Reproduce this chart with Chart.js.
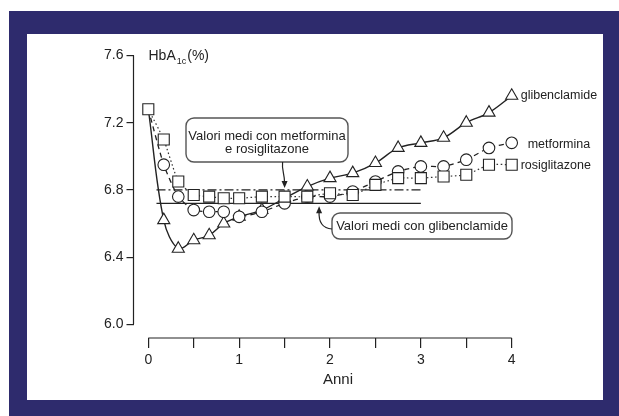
<!DOCTYPE html>
<html>
<head>
<meta charset="utf-8">
<script src="https://cdn.jsdelivr.net/npm/chart.js@4/dist/chart.umd.min.js"></script>
<style>
  html, body { margin: 0; padding: 0; background: #fff; }
  #frame { position: absolute; left: 9px; top: 11px; width: 610px; height: 405px; background: #2e2b6d; }
  #inner { position: absolute; left: 27px; top: 34px; width: 576px; height: 366px; background: #fff; }
  #wrap { position: absolute; left: 0; top: 0; width: 619px; height: 416px; }
</style>
</head>
<body>
<div id="frame"></div>
<div id="inner"></div>
<div id="wrap"><canvas id="myChart"></canvas></div>
<script>
  // anni di follow-up
  const anni = [0, 0.17, 0.33, 0.5, 0.67, 0.83, 1, 1.25, 1.5, 1.75, 2, 2.25, 2.5, 2.75, 3, 3.25, 3.5, 3.75, 4];

  // HbA1c (%)
  const glibenclamide = [7.28, 6.62, 6.45, 6.50, 6.53, 6.60, 6.64, 6.68, 6.75, 6.82, 6.87, 6.90, 6.96, 7.05, 7.08, 7.11, 7.20, 7.26, 7.36];
  const metformina    = [7.28, 6.95, 6.76, 6.68, 6.67, 6.67, 6.64, 6.67, 6.72, 6.76, 6.76, 6.79, 6.85, 6.91, 6.94, 6.94, 6.98, 7.05, 7.08];
  const rosiglitazone = [7.28, 7.10, 6.85, 6.77, 6.76, 6.75, 6.75, 6.76, 6.76, 6.76, 6.78, 6.77, 6.83, 6.87, 6.87, 6.88, 6.89, 6.95, 6.95];

  // valori medi (linee orizzontali)
  const mediaAnni = [0.09, 3];
  const mediaMetRosi = [6.80, 6.80];
  const mediaGlib = [6.72, 6.72];

  const yTicks = [6.0, 6.4, 6.8, 7.2, 7.6];
  const xTicks = [0, 1, 2, 3, 4];

  const ink = '#222';
  Chart.defaults.font.family = '"Liberation Sans", Arial, sans-serif';
  Chart.defaults.color = ink;

  const pts = (ys) => anni.map((a, i) => ({ x: a, y: ys[i] }));
  const hideFirst = (r) => (c) => c.dataIndex === 0 ? 0 : r;

  const decor = {
    id: 'decor',
    afterDraw(chart) {
      const { ctx, chartArea, scales: { x, y } } = chart;
      ctx.save();
      ctx.strokeStyle = ink;
      ctx.fillStyle = ink;
      ctx.lineWidth = 1.2;

      // assi
      ctx.beginPath();
      ctx.moveTo(chartArea.left, y.getPixelForValue(yTicks[yTicks.length - 1]));
      ctx.lineTo(chartArea.left, y.getPixelForValue(yTicks[0]));
      ctx.stroke();
      ctx.beginPath();
      ctx.moveTo(x.getPixelForValue(xTicks[0]), chartArea.bottom);
      ctx.lineTo(x.getPixelForValue(xTicks[xTicks.length - 1]), chartArea.bottom);
      ctx.stroke();

      // HbA1c (%)
      ctx.textBaseline = 'middle';
      ctx.textAlign = 'left';
      let tx = chartArea.left + 15, ty = y.getPixelForValue(7.6) + 1;
      ctx.font = '14px "Liberation Sans", Arial';
      ctx.fillText('HbA', tx, ty);
      tx += ctx.measureText('HbA').width + 1;
      ctx.font = '9px "Liberation Sans", Arial';
      ctx.fillText('1c', tx, ty + 5);
      tx += ctx.measureText('1c').width + 1;
      ctx.font = '14px "Liberation Sans", Arial';
      ctx.fillText('(%)', tx, ty);

      // etichette serie
      const xe = x.getPixelForValue(4);
      ctx.font = '12.5px "Liberation Sans", Arial';
      ctx.fillText('glibenclamide', xe + 9, y.getPixelForValue(glibenclamide[18]));
      ctx.fillText('metformina', xe + 16, y.getPixelForValue(metformina[18]) + 2);
      ctx.fillText('rosiglitazone', xe + 9, y.getPixelForValue(rosiglitazone[18]) + 1);

      // Anni
      ctx.textAlign = 'center';
      ctx.font = '15px "Liberation Sans", Arial';
      ctx.fillText('Anni', x.getPixelForValue(2) + 8, 380);

      // riquadri
      const box = (l, t, r, b) => {
        ctx.save();
        ctx.strokeStyle = '#555';
        ctx.lineWidth = 1.4;
        ctx.fillStyle = '#fff';
        ctx.beginPath();
        ctx.roundRect(l, t, r - l, b - t, 8);
        ctx.fill();
        ctx.stroke();
        ctx.restore();
      };
      const head = (tx, ty, ang) => {
        ctx.save();
        ctx.translate(tx, ty);
        ctx.rotate(ang);
        ctx.beginPath();
        ctx.moveTo(0, 0);
        ctx.lineTo(-7, -3);
        ctx.lineTo(-7, 3);
        ctx.closePath();
        ctx.fill();
        ctx.restore();
      };

      box(186, 118, 348, 162);
      ctx.font = '13px "Liberation Sans", Arial';
      ctx.fillText('Valori medi con metformina', 267, 136);
      ctx.fillText('e rosiglitazone', 267, 149);

      const a1x = x.getPixelForValue(1.5), a1y = y.getPixelForValue(6.80) - 2;
      ctx.lineWidth = 1.2;
      ctx.beginPath();
      ctx.moveTo(a1x - 2, 162);
      ctx.bezierCurveTo(a1x - 3, 170, a1x, 174, a1x, a1y - 5);
      ctx.stroke();
      head(a1x, a1y, Math.PI / 2);

      box(332, 213, 512, 239);
      ctx.fillText('Valori medi con glibenclamide', 422, 226);

      const a2x = x.getPixelForValue(1.88), a2y = y.getPixelForValue(6.72) + 3;
      ctx.beginPath();
      ctx.moveTo(332, 229);
      ctx.quadraticCurveTo(a2x - 1, 228, a2x, a2y + 5);
      ctx.stroke();
      head(a2x, a2y, -Math.PI / 2);

      ctx.restore();
    }
  };

  const data = {
    datasets: [
      {
        label: 'rosiglitazone',
        data: pts(rosiglitazone),
        borderColor: '#333',
        borderWidth: 1.2,
        borderDash: [1.5, 2.5],
        tension: 0.15,
        pointStyle: 'rect',
        pointRadius: 7.8,
        pointBackgroundColor: '#fff',
        pointBorderColor: ink,
        pointBorderWidth: 1.1,
        clip: false,
        order: 0
      },
      {
        label: 'metformina',
        data: pts(metformina),
        borderColor: ink,
        borderWidth: 1.3,
        borderDash: [5, 4],
        tension: 0.2,
        pointStyle: 'circle',
        pointRadius: hideFirst(5.8),
        pointBackgroundColor: '#fff',
        pointBorderColor: ink,
        pointBorderWidth: 1.1,
        clip: false,
        order: 1
      },
      {
        label: 'glibenclamide',
        data: pts(glibenclamide),
        borderColor: ink,
        borderWidth: 1.4,
        tension: 0.35,
        pointStyle: 'triangle',
        pointRadius: hideFirst(7),
        pointBackgroundColor: '#fff',
        pointBorderColor: ink,
        pointBorderWidth: 1.1,
        clip: false,
        order: 2
      },
      {
        label: 'media metformina e rosiglitazone',
        data: mediaAnni.map((a, i) => ({ x: a, y: mediaMetRosi[i] })),
        borderColor: ink,
        borderWidth: 1.4,
        borderDash: [9, 3, 2, 3],
        pointRadius: 0,
        order: 3
      },
      {
        label: 'media glibenclamide',
        data: mediaAnni.map((a, i) => ({ x: a, y: mediaGlib[i] })),
        borderColor: ink,
        borderWidth: 1.4,
        pointRadius: 0,
        order: 4
      }
    ]
  };

  const config = {
    type: 'line',
    data: data,
    plugins: [decor],
    options: {
      responsive: true,
      maintainAspectRatio: false,
      animation: false,
      layout: { padding: { left: 0, top: 55.5, right: 107.3, bottom: 0 } },
      plugins: { legend: { display: false }, tooltip: { enabled: false } },
      scales: {
        x: {
          type: 'linear',
          min: -0.163,
          max: 4,
          border: { display: false },
          grid: { drawOnChartArea: false, tickLength: 10, color: ink, lineWidth: 1.2 },
          ticks: {
            stepSize: 0.5,
            includeBounds: false,
            padding: 4,
            maxRotation: 0,
            autoSkip: false,
            font: { size: 14 },
            callback: (v) => xTicks.includes(v) ? String(v) : ''
          },
          afterFit: (s) => { s.height = 78; }
        },
        y: {
          min: 5.9185,
          max: 7.6,
          border: { display: false },
          grid: { drawOnChartArea: false, tickLength: 7, color: ink, lineWidth: 1.2 },
          afterBuildTicks: (s) => { s.ticks = yTicks.map((v) => ({ value: v })); },
          ticks: {
            padding: 3,
            font: { size: 14 },
            callback: (v) => v.toFixed(1)
          },
          afterFit: (s) => { s.width = 133.5; }
        }
      }
    }
  };

  const myChart = new Chart(document.getElementById('myChart'), config);
</script>
</body>
</html>
